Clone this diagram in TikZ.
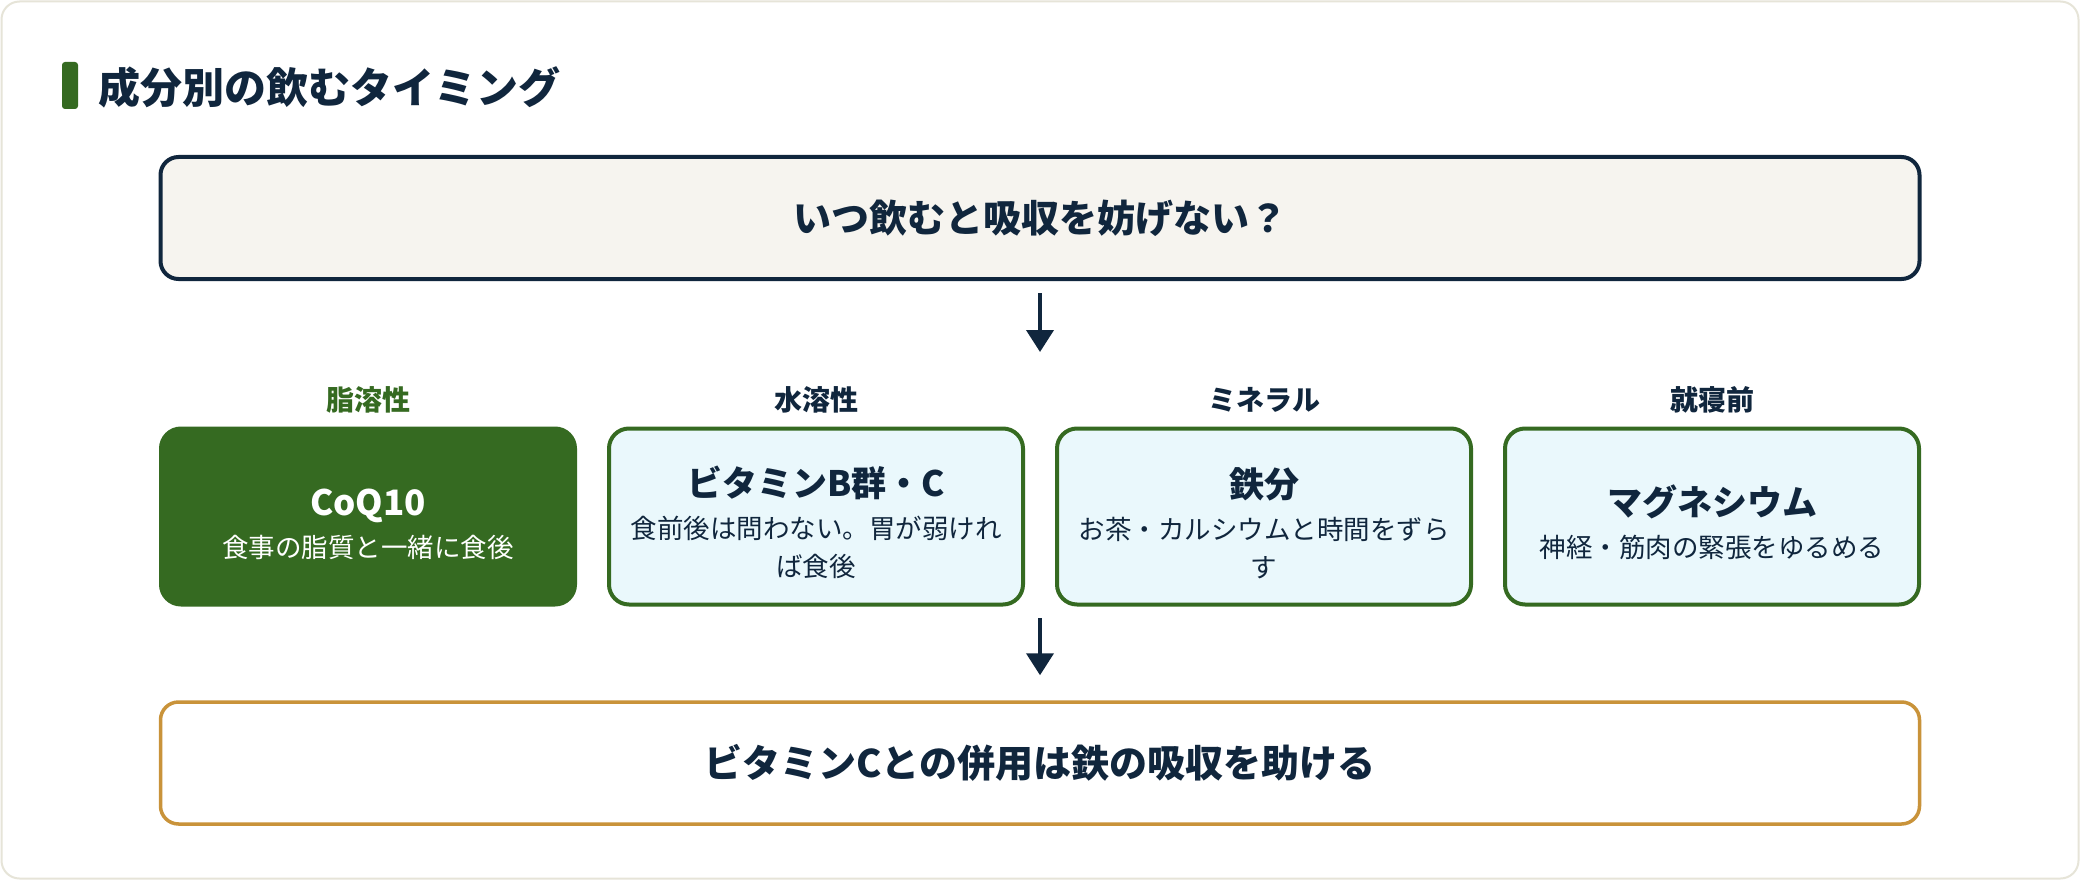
\documentclass[tikz,border=0pt]{standalone}
\usepackage{fontspec}
\setmainfont{Noto Sans CJK JP}
\usetikzlibrary{positioning,arrows.meta}
\definecolor{navy}{HTML}{10263D}
\definecolor{leaf}{HTML}{356A21}
\definecolor{mint}{HTML}{EAF8FC}
\definecolor{paper}{HTML}{F6F4EF}
\definecolor{gold}{HTML}{C9933A}
\definecolor{rim}{HTML}{E6E4D8}
\newcommand{\cardtitle}[1]{{\fontsize{35}{42}\selectfont\bfseries\rule{0pt}{43pt}#1}}
\begin{document}
\begin{tikzpicture}[x=1pt,y=-1pt,>={Triangle[width=27pt,length=22pt]}]
    \tikzstyle{every node}=[node distance=448pt,inner sep=0pt,text=navy]
    \tikzstyle{wide}=[draw,rounded corners=18pt,line width=4pt,minimum width=1759pt,minimum height=122pt,font=\fontsize{38}{46}\selectfont\bfseries]
    \tikzstyle{card}=[draw=leaf,fill=mint,rounded corners=20pt,line width=4pt,minimum width=414pt,minimum height=176pt,align=center,font=\fontsize{26.5}{38}\selectfont]
    \tikzstyle{tag}=[node distance=116.5pt,font=\fontsize{28}{34}\selectfont\bfseries]
    \tikzstyle{link}=[->,navy,line width=4pt]

    \useasboundingbox (0,0) rectangle (2080,880);
    \draw[rim,fill=white,rounded corners=18pt,line width=2pt] (1.5,1.5) rectangle (2078.5,878.5);
    \fill[leaf,rounded corners=3pt] (62,62) rectangle (78,109);
    \node (title) [anchor=west,font=\fontsize{42}{50}\selectfont\bfseries] at (98,87) {成分別の飲むタイミング};

    \node (q) [wide,fill=paper,draw=navy] at (1040,218) {いつ飲むと吸収を妨げない？};
    \coordinate (qend) at (1040,352);

    \node (coq) [card,fill=leaf,draw=leaf,text=white] at (368,516.5) {\cardtitle{CoQ10}\\[4pt]食事の脂質と一緒に食後};
    \node (vit) [card,right of=coq] {\cardtitle{ビタミンB群・C}\\[4pt]食前後は問わない。胃が弱けれ\\ば食後};
    \node (iron) [card,right of=vit] {\cardtitle{鉄分}\\[4pt]お茶・カルシウムと時間をずら\\す};
    \node (mg) [card,right of=iron] {\cardtitle{マグネシウム}\\[4pt]神経・筋肉の緊張をゆるめる};

    \node (coqtag) [tag,text=leaf,above of=coq] {脂溶性};
    \node (vittag) [tag,above of=vit] {水溶性};
    \node (irontag) [tag,above of=iron] {ミネラル};
    \node (mgtag) [tag,above of=mg] {就寝前};

    \coordinate (rowend) at (1040,605);
    \node (ans) [wide,fill=white,draw=gold,line width=3.5pt] at (1040,763) {ビタミンCとの併用は鉄の吸収を助ける};

    \draw[link,shorten <=12pt] (q) -- (qend);
    \draw[link,shorten <=13pt,shorten >=25pt] (rowend) -- (ans);
\end{tikzpicture}
\end{document}
